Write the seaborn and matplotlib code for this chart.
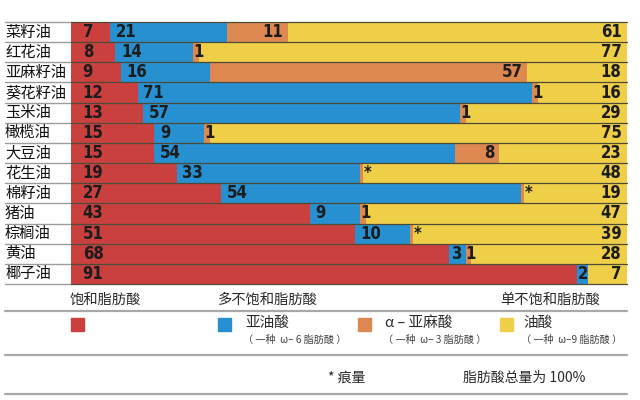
import matplotlib
matplotlib.use("Agg")
import matplotlib.pyplot as plt
import matplotlib.font_manager as fm
from matplotlib.patches import Rectangle
from matplotlib.lines import Line2D
import seaborn as sns
import pandas as pd

# ---- data ----
oils = ["菜籽油", "红花油", "亚麻籽油", "葵花籽油", "玉米油", "橄榄油", "大豆油",
        "花生油", "棉籽油", "猪油", "棕榈油", "黄油", "椰子油"]
saturated = [7, 8, 9, 12, 13, 15, 15, 19, 27, 43, 51, 68, 91]
linoleic = [21, 14, 16, 71, 57, 9, 54, 33, 54, 9, 10, 3, 2]
# trace amounts (*) shown as a very thin sliver
alpha_linolenic = [11, 1, 57, 1, 1, 1, 8, 0.5, 0.5, 1, 0.5, 1, 0]
alpha_labels = ["11", "1", "57", "1", "1", "1", "8", "*", "*", "1", "*", "1", ""]
oleic = [61, 77, 18, 16, 29, 75, 23, 48, 19, 47, 39, 28, 7]

headers = ["饱和脂肪酸", "多不饱和脂肪酸", "单不饱和脂肪酸"]
legend_names = ["", "亚油酸", "α – 亚麻酸", "油酸"]
legend_subs = ["", "（ 一种  ω– 6 脂肪酸 ）", "（ 一种  ω– 3 脂肪酸 ）", "（ 一种  ω–9 脂肪酸 ）"]
note_trace = "* 痕量"
note_total = "脂肪酸总量为 100%"

RED, BLUE, ORANGE, YELLOW = "#c9403f", "#2690d0", "#dc8850", "#efcf48"

sns.set_theme(style="white")
plt.rcParams["font.family"] = ["Noto Sans CJK SC", "DejaVu Sans"]

names = {f.name for f in fm.fontManager.ttflist}
num_family = "Liberation Sans Narrow" if "Liberation Sans Narrow" in names else "DejaVu Sans"
num_font = dict(family=num_family, weight="bold", stretch="condensed", size=12, color="#1c1c1c")

df = pd.DataFrame({"oil": oils, "sat": saturated, "lin": linoleic,
                   "ala": alpha_linolenic, "ole": oleic})
df["c1"] = df["sat"]
df["c2"] = df["c1"] + df["lin"]
df["c3"] = df["c2"] + df["ala"]
df["c4"] = df["c3"] + df["ole"]

W, H = 640, 400
fig = plt.figure(figsize=(6.4, 4.0), dpi=100)
x0, x1, y0, y1 = 71, 627, 22, 284
ax = fig.add_axes([x0 / W, 1 - y1 / H, (x1 - x0) / W, (y1 - y0) / H])

for col, c in [("c4", YELLOW), ("c3", ORANGE), ("c2", BLUE), ("c1", RED)]:
    sns.barplot(data=df, x=col, y="oil", orient="h", color=c, width=1.0,
                saturation=1, linewidth=0, ax=ax)

ax.set_xlim(0, 100)
ax.set_ylim(len(oils) - 0.5, -0.5)
ax.set_xlabel("")
ax.set_ylabel("")
ax.set_xticks([])
ax.set_yticks([])
for s in ax.spines.values():
    s.set_visible(False)

left_ext = -(x0 - 5) / (x1 - x0)
ytr = ax.get_yaxis_transform()
for k in range(len(oils) + 1):
    yy = k - 0.5
    ax.plot([left_ext, 0], [yy, yy], transform=ytr, color="#9c9c9c", lw=1.0, clip_on=False)
    ax.plot([0, 1], [yy, yy], transform=ytr, color="#4e4a38", lw=0.9, clip_on=False)

for i, row in df.iterrows():
    ax.text(left_ext, i, row["oil"], transform=ytr, ha="left", va="center",
            fontsize=11, color="#111111", weight="medium")
    ax.text(2.1, i, str(row["sat"]), ha="left", va="center", **num_font)
    if row["lin"] < 5:
        ax.text(row["c1"] + row["lin"] / 2, i, str(row["lin"]), ha="center", va="center", **num_font)
    else:
        ax.text(row["c1"] + 1.0, i, str(row["lin"]), ha="left", va="center", **num_font)
    lab = alpha_labels[i]
    if lab:
        if lab == "*":
            ax.text(row["c3"] + 0.1, i, lab, ha="left", va="center", **num_font)
        elif row["ala"] >= 5:
            ax.text(row["c3"] - 0.8, i, lab, ha="right", va="center", **num_font)
        else:
            ax.text(row["c2"] + row["ala"] / 2 + 0.4, i, lab, ha="center", va="center", **num_font)
    ax.text(99.0, i, str(row["ole"]), ha="right", va="center", **num_font)

# ---- legend area ----
def fx(px):
    return px / W

def fy(py):
    return 1 - py / H

for py in (311, 355, 394):
    fig.add_artist(Line2D([fx(5), fx(627)], [fy(py), fy(py)], color="#a8a8a8", lw=1.6))

for hx, t in zip([70, 218, 500], headers):
    fig.text(fx(hx), fy(300), t, ha="left", va="center", fontsize=10.3, color="#2a2a2a")

sq_x = [71, 218, 358, 500]
cols = [RED, BLUE, ORANGE, YELLOW]
name_x = [0, 245, 385, 523]
for sx, c, nx, nm, sb in zip(sq_x, cols, name_x, legend_names, legend_subs):
    fig.add_artist(Rectangle((fx(sx), fy(331)), 13 / W, 13 / H, color=c,
                             transform=fig.transFigure))
    if nm:
        fig.text(fx(nx), fy(323), nm, ha="left", va="center", fontsize=10.5, color="#2a2a2a")
        fig.text(fx(nx - 2), fy(340), sb, ha="left", va="center", fontsize=7.3, color="#444444")

fig.text(fx(328), fy(378), note_trace, ha="left", va="center", fontsize=10, color="#2a2a2a")
fig.text(fx(463), fy(378), note_total, ha="left", va="center", fontsize=10, color="#2a2a2a")

fig.savefig("out.png", dpi=100, facecolor="white")
